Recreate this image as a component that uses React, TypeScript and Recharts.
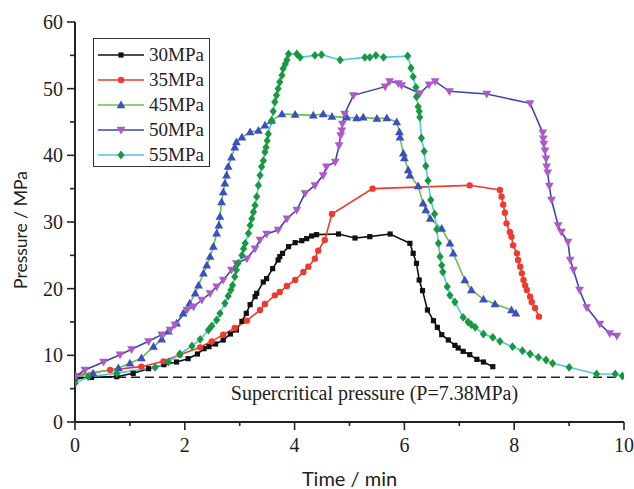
import { Label, Legend, Line, LineChart, ReferenceLine, XAxis, YAxis } from "recharts";

type Pt = [number, number];

// [time (min), pressure (MPa)]
const S30: Pt[] = [
  [0, 6.5], [0.3, 6.7], [0.76, 6.8], [1.06, 7.3], [1.34, 8.0], [1.62, 8.6], [1.85, 9.0], [2.06, 9.5],
  [2.23, 10.2], [2.35, 11.0], [2.44, 11.3], [2.56, 11.7], [2.7, 12.3], [2.83, 13.2], [2.94, 13.8], [3.04, 15.1],
  [3.12, 16.3], [3.19, 17.6], [3.28, 18.8], [3.31, 19.3], [3.43, 21.0], [3.49, 21.5], [3.6, 23.0], [3.7, 24.3],
  [3.73, 24.8], [3.78, 25.3], [3.89, 26.3], [4.01, 26.9], [4.13, 27.2], [4.22, 27.5], [4.31, 27.9], [4.4, 28.1],
  [4.8, 28.2], [5.1, 27.6], [5.37, 27.8], [5.74, 28.2], [6.1, 26.8], [6.16, 25.3], [6.22, 23.8], [6.27, 21.3],
  [6.33, 19.7], [6.42, 16.8], [6.53, 15.2], [6.6, 14.2], [6.68, 13.1], [6.8, 12.3], [6.92, 11.5], [6.98, 11.1],
  [7.07, 10.6], [7.19, 10.1], [7.32, 9.4], [7.44, 9.0], [7.61, 8.3],
];

const S35: Pt[] = [
  [0, 7.0], [0.64, 7.8], [1.21, 8.3], [1.61, 9.1], [1.91, 10.1], [2.28, 11.2], [2.49, 12.1], [2.7, 13.1],
  [2.91, 14.1], [3.13, 15.2], [3.37, 16.8], [3.46, 17.7], [3.64, 19.0], [3.73, 19.5], [3.86, 20.4], [4.01, 21.3],
  [4.16, 22.5], [4.25, 23.3], [4.37, 24.5], [4.43, 25.7], [4.55, 27.3], [4.68, 31.2], [5.42, 35.0], [7.19, 35.5],
  [7.74, 34.8], [7.77, 33.8], [7.8, 32.6], [7.83, 31.4], [7.86, 29.8], [7.92, 28.5], [7.95, 27.8], [7.98, 26.5],
  [8.05, 25.3], [8.07, 24.3], [8.11, 23.3], [8.14, 22.3], [8.17, 21.3], [8.2, 20.5], [8.23, 19.8], [8.29, 18.8],
  [8.32, 18.0], [8.38, 17.1], [8.45, 15.8],
];

const S45: Pt[] = [
  [0, 6.8], [0.33, 7.3], [0.79, 8.1], [1.0, 8.8], [1.21, 9.6], [1.43, 11.3], [1.58, 12.4], [1.7, 13.6],
  [1.85, 14.8], [1.97, 16.3], [2.09, 17.8], [2.19, 19.3], [2.25, 20.5], [2.34, 22.3], [2.4, 23.5], [2.46, 24.8],
  [2.52, 26.3], [2.58, 28.3], [2.62, 29.5], [2.64, 30.8], [2.67, 33.0], [2.7, 34.5], [2.73, 35.8], [2.76, 37.0],
  [2.79, 38.3], [2.85, 39.7], [2.91, 41.2], [2.94, 42.0], [3.04, 42.7], [3.19, 43.5], [3.34, 43.7], [3.46, 44.5],
  [3.58, 45.2], [3.77, 46.2], [4.01, 46.1], [4.34, 46.0], [4.52, 46.2], [4.68, 45.8], [4.95, 45.7], [5.13, 45.6],
  [5.25, 45.7], [5.5, 45.5], [5.68, 45.6], [5.86, 45.0], [5.91, 43.5], [5.92, 42.7], [5.98, 40.3], [6.0, 39.6],
  [6.07, 37.8], [6.1, 37.0], [6.25, 35.4], [6.34, 32.8], [6.39, 31.8], [6.47, 30.5], [6.68, 29.0], [6.83, 26.8],
  [6.89, 25.3], [7.1, 21.3], [7.22, 19.8], [7.44, 18.4], [7.65, 17.7], [7.95, 16.8], [8.03, 16.3],
];

const S50: Pt[] = [
  [0, 6.8], [0.18, 7.8], [0.52, 9.0], [0.82, 10.1], [1.03, 10.9], [1.34, 12.1], [1.58, 13.1], [1.73, 13.8],
  [1.82, 14.6], [2.04, 16.8], [2.16, 17.3], [2.31, 18.3], [2.46, 19.3], [2.58, 20.3], [2.7, 21.3], [2.85, 22.8],
  [2.94, 23.8], [3.13, 24.5], [3.28, 26.0], [3.37, 27.3], [3.49, 28.2], [3.7, 28.8], [3.86, 30.5], [4.04, 31.8],
  [4.19, 34.3], [4.37, 35.5], [4.52, 37.0], [4.58, 38.3], [4.74, 39.0], [4.81, 41.5], [4.84, 43.0], [4.86, 43.7],
  [4.87, 44.7], [4.91, 46.2], [5.07, 49.0], [5.65, 50.3], [5.73, 51.1], [5.89, 50.8], [5.95, 50.5], [6.28, 49.3],
  [6.45, 50.6], [6.56, 51.1], [6.82, 49.6], [7.5, 49.2], [8.29, 47.8], [8.52, 43.4], [8.53, 42.5], [8.54, 41.7],
  [8.56, 40.7], [8.58, 39.5], [8.59, 38.3], [8.61, 37.4], [8.64, 35.4], [8.68, 33.3], [8.8, 29.5], [8.86, 28.5],
  [8.98, 27.0], [9.02, 24.3], [9.08, 22.8], [9.19, 19.8], [9.32, 17.2], [9.56, 14.7], [9.74, 13.3], [9.87, 12.9],
];

const S55: Pt[] = [
  [0, 5.8], [0.24, 6.8], [0.76, 7.3], [1.46, 8.2], [1.7, 9.0], [1.91, 10.2], [2.13, 11.4], [2.28, 12.4],
  [2.43, 13.8], [2.49, 14.4], [2.58, 15.3], [2.64, 16.3], [2.73, 17.8], [2.79, 18.9], [2.84, 19.8], [2.87, 20.5],
  [2.91, 21.8], [2.94, 22.8], [2.97, 23.8], [3.04, 25.0], [3.07, 26.0], [3.1, 26.8], [3.16, 28.3], [3.19, 29.5],
  [3.22, 30.5], [3.25, 31.5], [3.28, 32.5], [3.31, 33.8], [3.34, 35.5], [3.37, 37.0], [3.4, 38.3], [3.43, 39.2],
  [3.46, 40.5], [3.48, 41.2], [3.5, 42.2], [3.52, 43.2], [3.58, 45.2], [3.61, 46.6], [3.64, 48.0], [3.67, 49.0],
  [3.7, 50.0], [3.73, 51.0], [3.77, 52.0], [3.79, 53.0], [3.83, 53.7], [3.86, 54.3], [3.89, 55.2], [4.04, 55.2],
  [4.1, 54.7], [4.37, 55.0], [4.49, 55.1], [4.83, 54.3], [5.28, 54.7], [5.37, 54.7], [5.48, 55.0], [5.62, 54.7],
  [6.06, 54.9], [6.12, 53.1], [6.16, 51.8], [6.21, 50.2], [6.22, 48.8], [6.25, 47.3], [6.27, 46.6], [6.28, 45.7],
  [6.31, 42.6], [6.36, 40.6], [6.39, 38.4], [6.43, 36.2], [6.48, 33.3], [6.55, 31.2], [6.59, 28.9], [6.62, 26.8],
  [6.65, 24.8], [6.68, 23.5], [6.7, 22.5], [6.78, 20.3], [6.83, 19.0], [6.92, 18.0], [7.07, 15.7], [7.16, 15.0],
  [7.22, 14.6], [7.29, 14.2], [7.44, 13.2], [7.61, 12.7], [7.74, 12.1], [7.97, 11.3], [8.15, 10.7], [8.29, 10.2],
  [8.44, 9.7], [8.58, 9.3], [8.7, 8.8], [9.0, 8.2], [9.5, 7.2], [9.84, 7.2], [9.97, 6.9],
];

const X_TICKS = [0, 1, 2, 3, 4, 5, 6, 7, 8, 9, 10];
const Y_TICKS = [0, 5, 10, 15, 20, 25, 30, 35, 40, 45, 50, 55, 60];

// dashed line sits at this height in the figure (labelled 7.38 MPa)
const SUPERCRITICAL_Y = 6.7;
const SUPERCRITICAL_TEXT = "Supercritical pressure (P=7.38MPa)";

type MarkerKind = "square" | "circle" | "triangle" | "triangleDown" | "diamond";

const SERIES: Array<{ name: string; points: Pt[]; stroke: string; fill: string; marker: MarkerKind }> = [
  { name: "30MPa", points: S30, stroke: "#111111", fill: "#111111", marker: "square" },
  { name: "35MPa", points: S35, stroke: "#f03a30", fill: "#f03a30", marker: "circle" },
  { name: "45MPa", points: S45, stroke: "#6cbf45", fill: "#3a4fc4", marker: "triangle" },
  { name: "50MPa", points: S50, stroke: "#3a45b0", fill: "#b058c8", marker: "triangleDown" },
  { name: "55MPa", points: S55, stroke: "#4fc8e6", fill: "#17993f", marker: "diamond" },
];

const SERIF = '"Liberation Serif", "Times New Roman", serif';
const SANS = 'Lato, "Liberation Sans", sans-serif';
const AXIS = "#222";

function Marker({ kind, cx, cy, color }: { kind: MarkerKind; cx: number; cy: number; color: string }) {
  if (cx == null || cy == null) return null;
  switch (kind) {
    case "square":
      return <rect x={cx - 2.6} y={cy - 2.6} width={5.2} height={5.2} fill={color} />;
    case "circle":
      return <circle cx={cx} cy={cy} r={3.2} fill={color} />;
    case "triangle":
      return <polygon points={`${cx},${cy - 4.6} ${cx + 4.4},${cy + 3.2} ${cx - 4.4},${cy + 3.2}`} fill={color} />;
    case "triangleDown":
      return <polygon points={`${cx},${cy + 4.6} ${cx + 4.4},${cy - 3.2} ${cx - 4.4},${cy - 3.2}`} fill={color} />;
    default:
      return <polygon points={`${cx},${cy - 4.4} ${cx + 3.6},${cy} ${cx},${cy + 4.4} ${cx - 3.6},${cy}`} fill={color} />;
  }
}

function YTick(props: any) {
  const { x, y, payload } = props;
  const major = payload.value % 10 === 0;
  return (
    <g>
      <line x1={x - (major ? 8 : 5)} x2={x} y1={y} y2={y} stroke={AXIS} strokeWidth={1.6} />
      {major && (
        <text x={x - 12} y={y + 7} textAnchor="end" fontSize={20} fontFamily={SERIF} fill="#222">
          {payload.value}
        </text>
      )}
    </g>
  );
}

function XTick(props: any) {
  const { x, y, payload } = props;
  const major = payload.value % 2 === 0;
  return (
    <g>
      <line x1={x} x2={x} y1={y} y2={y + (major ? 8 : 4)} stroke={AXIS} strokeWidth={1.6} />
      {major && (
        <text x={x} y={y + 30} textAnchor="middle" fontSize={20} fontFamily={SERIF} fill="#222">
          {payload.value}
        </text>
      )}
    </g>
  );
}

function LegendBox() {
  return (
    <div style={{ border: "1px solid #333", background: "#fff", width: 117, height: 129, boxSizing: "border-box" }}>
      <svg width={115} height={127} style={{ display: "block" }}>
        {SERIES.map((s, i) => {
          const cy = 16 + i * 25;
          return (
            <g key={s.name}>
              <line x1={4} x2={50} y1={cy} y2={cy} stroke={s.stroke} strokeWidth={1.6} />
              <Marker kind={s.marker} cx={27} cy={cy} color={s.fill} />
              <text x={55} y={cy + 6} fontSize={19} fontFamily={SERIF} fill="#222">
                {s.name}
              </text>
            </g>
          );
        })}
      </svg>
    </div>
  );
}

export default function App() {
  return (
    <div style={{ position: "absolute", left: 0, top: 0, background: "#fff" }}>
      <LineChart width={634} height={489} margin={{ top: 22, right: 10, bottom: 0, left: 0 }} style={{ fontFamily: SERIF }}>
        <XAxis
          type="number"
          dataKey="t"
          domain={[0, 10]}
          ticks={X_TICKS}
          interval={0}
          tick={XTick}
          tickLine={false}
          tickSize={0}
          tickMargin={0}
          height={67}
          axisLine={{ stroke: AXIS, strokeWidth: 2 }}
          allowDataOverflow
        >
          <Label
            content={({ viewBox }: any) => (
              <text x={viewBox.x + viewBox.width / 2} y={viewBox.y + 64} textAnchor="middle" fontSize={20} fontFamily={SANS} fill="#222">
                Time / min
              </text>
            )}
          />
        </XAxis>
        <YAxis
          type="number"
          dataKey="p"
          domain={[0, 60]}
          ticks={Y_TICKS}
          interval={0}
          tick={YTick}
          tickLine={false}
          tickSize={0}
          tickMargin={0}
          width={75}
          axisLine={{ stroke: AXIS, strokeWidth: 2 }}
          allowDataOverflow
        >
          <Label
            content={({ viewBox }: any) => {
              const cy = viewBox.y + viewBox.height / 2 + 8;
              return (
                <text transform={`translate(27, ${cy}) rotate(-90)`} textAnchor="middle" fontSize={17.5} fontFamily={SANS} fill="#222">
                  Pressure / MPa
                </text>
              );
            }}
          />
        </YAxis>
        <ReferenceLine
          y={SUPERCRITICAL_Y}
          stroke="#222"
          strokeWidth={1.5}
          strokeDasharray="9 5"
          label={({ viewBox }: any) => (
            <text x={viewBox.x + viewBox.width / 2 + 25} y={viewBox.y + 23} textAnchor="middle" fontSize={20} fontFamily={SERIF} fill="#222">
              {SUPERCRITICAL_TEXT}
            </text>
          )}
        />
        {SERIES.map((s) => (
          <Line
            key={s.name}
            data={s.points.map(([t, p]) => ({ t, p }))}
            dataKey="p"
            name={s.name}
            type="linear"
            stroke={s.stroke}
            strokeWidth={1.6}
            dot={(d: any) => <Marker key={`${s.name}-${d.index}`} kind={s.marker} cx={d.cx} cy={d.cy} color={s.fill} />}
            activeDot={false}
            isAnimationActive={false}
          />
        ))}
        <Legend
          layout="vertical"
          align="center"
          verticalAlign="middle"
          wrapperStyle={{ left: 93, top: 38, width: 117, height: 129 }}
          content={() => <LegendBox />}
        />
      </LineChart>
    </div>
  );
}
